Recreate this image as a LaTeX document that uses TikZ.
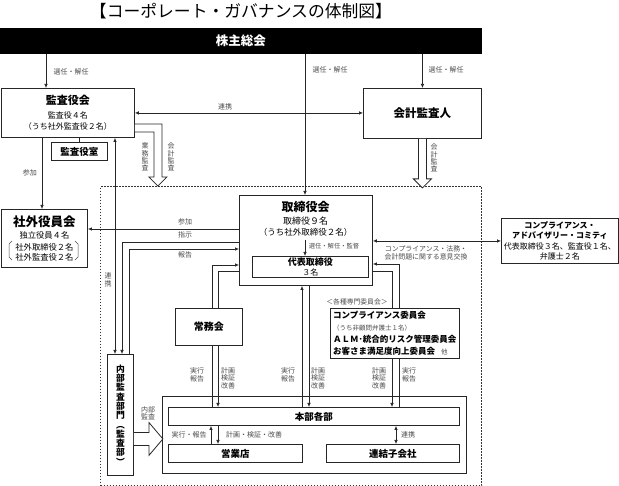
\documentclass[tikz,border=0pt]{standalone}
\usepackage{fontspec}
\setmainfont{Noto Sans CJK JP}
\usetikzlibrary{arrows.meta,calc}
\newcommand{\fsz}[2]{\fontsize{#1}{#2}\selectfont}
\setlength{\lineskiplimit}{-30pt}
\begin{document}
\begin{tikzpicture}[x=1pt,y=-1pt,
  >={Latex[length=4pt,width=3.6pt]},
  box/.style={draw=black!85, line width=0.9pt, fill=white, inner sep=0pt, anchor=north west, align=center},
  conn/.style={draw=black!85, line width=0.7pt},
  lbl/.style={text=black!70, inner sep=0pt, align=center, font={\fsz{7}{7.4}}},
  hollow/.style={draw=black!85, line width=0.8pt, fill=white},
  frame/.style={draw=black!80, line width=1.1pt, dash pattern=on 1.3pt off 1.7pt, inner sep=0pt, anchor=north west},
  brk/.style={draw=black!70, line width=0.5pt}]
\useasboundingbox (0,0) rectangle (619,486);

% helper coordinates for connector bends
\coordinate (xSelL) at (46,0);
\coordinate (xSelM) at (305,0);
\coordinate (xSanka) at (42,0);
\coordinate (xRenkei) at (115,0);
\coordinate (xShiji) at (122,0);
\coordinate (xHoukoku) at (129,0);
\coordinate (xJ1) at (212,0);
\coordinate (xJ2) at (218,0);
\coordinate (xT1) at (302,0);
\coordinate (xT2) at (309,0);
\coordinate (xR1) at (392,0);
\coordinate (xR2) at (399,0);
\coordinate (xE1) at (211,0);
\coordinate (xE2) at (218,0);
\coordinate (xRk) at (396,0);
\coordinate (ySanka) at (0,229);
\coordinate (yShiji) at (0,242);
\coordinate (yHoukoku) at (0,249);
\coordinate (yJ1) at (0,265);
\coordinate (yJ2) at (0,271);
\coordinate (yR2) at (0,264);
\coordinate (yR1) at (0,271);
\coordinate (kantokuTop) at (305,240);

% title
\node[inner sep=0pt, font={\fsz{16.8}{18}}] (title) at (241,11) {【コーポレート・ガバナンスの体制図】};

% dotted frame
\node[frame, minimum width=381pt, minimum height=299pt] (frm) at (100,186) {};

% nodes
\node[box, minimum width=481pt, minimum height=25pt, fill=black, draw=black, text=white, font={\fsz{12.5}{14}\bfseries}] (kabu) at (0,28) {株主総会};
\node[box, minimum width=133pt, minimum height=49pt, font={\fsz{8}{10}}] (kansa) at (1,88) {{\fsz{11}{13}\bfseries 監査役会}\\[4pt]監査役４名\\[1pt]（うち社外監査役２名）};
\node[box, minimum width=118pt, minimum height=50pt, font={\fsz{11.5}{13}\bfseries}] (kaikei) at (363,88) {会計監査人};
\node[box, minimum width=56pt, minimum height=18pt, font={\fsz{9.5}{11}\bfseries}] (shitsu) at (51,142) {監査役室};
\node[box, minimum width=86pt, minimum height=58pt, font={\fsz{8.3}{10}}] (shagai) at (1,209) {{\fsz{12.5}{14}\bfseries 社外役員会}\\[2.5pt]独立役員４名\\[2pt]社外取締役２名\\社外監査役２名};
\node[box, minimum width=133pt, minimum height=90pt] (tori) at (239,195) {};
\node[inner sep=0pt, anchor=north, align=center, font={\fsz{8.5}{11.5}}] (toritxt) at (305.5,201.5) {{\fsz{12}{14}\bfseries 取締役会}\\[1pt]{\fsz{9}{11}取締役９名}\\（うち社外取締役２名）};
\node[box, minimum width=116pt, minimum height=21pt, font={\fsz{8}{9.5}}] (daihyo) at (252,256) {{\fsz{9}{10}\bfseries 代表取締役}\\３名};
\node[box, minimum width=67pt, minimum height=37pt, font={\fsz{10}{12}\bfseries}] (joumu) at (175,308) {常務会};
\node[box, minimum width=117pt, minimum height=45pt, font={\fsz{8}{10.3}}] (cac) at (501,218) {{\bfseries コンプライアンス・}\\{\bfseries アドバイザリー・コミティ}\\代表取締役３名、監査役１名、\\弁護士２名};
\node[box, minimum width=26pt, minimum height=121pt, font={\fsz{8.8}{9.3}\bfseries}] (naibu) at (107,354) {内\\部\\監\\査\\部\\門\\︵\\監\\査\\部\\︶};
\node[box, minimum width=304pt, minimum height=77pt] (group) at (162,396) {};
\node[box, minimum width=291pt, minimum height=18pt, font={\fsz{9.5}{11}\bfseries}] (honbu) at (168,407) {本部各部};
\node[box, minimum width=134pt, minimum height=18pt, font={\fsz{9.5}{11}\bfseries}] (eigyo) at (168,444) {営業店};
\node[box, minimum width=133pt, minimum height=18pt, font={\fsz{9.5}{11}\bfseries}] (renketsu) at (326,444) {連結子会社};

% brackets in 社外役員会
\draw[brk] (12,241) -- (9,244) -- (9,257) -- (12,260);
\draw[brk] (75,241) -- (78,244) -- (78,257) -- (75,260);

% connectors from 株主総会
\draw[conn,->] (kabu.south -| xSelL) -- (kansa.north -| xSelL);
\draw[conn,->] (kabu.south -| xSelM) -- (tori.north -| xSelM);
\draw[conn,->] (kabu.south -| kaikei.north) -- (kaikei.north);
\node[lbl] at (71,72) {選任・解任};
\node[lbl] at (330,70) {選任・解任};
\node[lbl] at (446,70) {選任・解任};

% 連携 監査役会 - 会計監査人
\draw[conn,<->] (kansa.east) -- (kaikei.west |- kansa.east);
\node[lbl] at (225,107) {連携};

% 監査役室
\draw[conn] (kansa.south -| shitsu.north) -- (shitsu.north);

% 参加 監査役会 -> 社外役員会
\draw[conn,->] (kansa.south -| xSanka) -- (shagai.north -| xSanka);
\node[lbl] at (30,173) {参加};

% hollow arrows
\draw[hollow] (kansa.north east) ++(0,36) -- ++(27,0) -- ++(0,53) -- ++(5,0) -- ++(-9,9) -- ++(-9,-9) -- ++(5,0) -- ++(0,-45) -- ++(-19,0);
\node[lbl] at (145,157) {業\\務\\監\\査};
\node[lbl] at (171,157) {会\\計\\監\\査};
\draw[hollow] (kaikei.south) ++(-4,0) -- ++(0,40) -- ++(-5,0) -- ++(9,9) -- ++(9,-9) -- ++(-5,0) -- ++(0,-40);
\node[lbl] at (434,158) {会\\計\\監\\査};
\draw[hollow] (naibu.east) ++(0,17.5) -- ++(15,0) -- ++(0,-10) -- ++(14,16.5) -- ++(-14,16.5) -- ++(0,-10) -- ++(-15,0);
\node[lbl] at (148,413) {内部\\監査};

% 連携 監査役会 - 内部監査部門
\draw[conn,<->] (kansa.south -| xRenkei) -- (naibu.north -| xRenkei);
\node[lbl] at (108,280) {連\\携};

% 取締役会 left side
\draw[conn,->] (tori.west |- ySanka) -- (shagai.east |- ySanka);
\node[lbl] at (185,222) {参加};
\draw[conn,->] (tori.west |- yShiji) -- (xShiji |- yShiji) -- (naibu.north -| xShiji);
\node[lbl] at (185,235) {指示};
\draw[conn,->] (naibu.north -| xHoukoku) -- (xHoukoku |- yHoukoku) -- (tori.west |- yHoukoku);
\node[lbl] at (185,255) {報告};

% 常務会
\draw[conn,->] (joumu.north -| xJ1) -- (xJ1 |- yJ1) -- (tori.west |- yJ1);
\draw[conn] (joumu.north -| xJ2) -- (xJ2 |- yJ2) -- (tori.west |- yJ2);
\draw[conn] (joumu.south -| xJ1) -- (honbu.north -| xJ1);
\draw[conn,->] (joumu.south -| xJ2) -- (honbu.north -| xJ2);
\node[lbl] at (197,375) {実行\\報告};
\node[lbl] at (228,378) {計画\\検証\\改善};

% 取締役会 - 本部各部
\draw[conn,->] (honbu.north -| xT1) -- (tori.south -| xT1);
\draw[conn,->] (tori.south -| xT2) -- (honbu.north -| xT2);
\node[lbl] at (288,375) {実行\\報告};
\node[lbl] at (318,378) {計画\\検証\\改善};

% 選任・解任・監督
\draw[conn,->] (kantokuTop) -- (daihyo.north -| kantokuTop);
\node[lbl, font={\fsz{6.3}{7}}] at (334,246) {選任・解任・監督};

% right side loop
\draw[conn,->] (honbu.north -| xR2) -- (xR2 |- yR2) -- (tori.east |- yR2);
\draw[conn,->] (tori.east |- yR1) -- (xR1 |- yR1) -- (honbu.north -| xR1);
\node[lbl] at (379,378) {計画\\検証\\改善};
\node[lbl] at (409,375) {実行\\報告};

% 意見交換
\draw[conn,<->] (tori.east |- cac.west) -- (cac.west);
\node[lbl, font={\fsz{6.9}{8.6}}] at (426,253) {コンプライアンス・法務・\\会計問題に関する意見交換};

% committees box (covers lines)
\node[lbl, font={\fsz{6.8}{8}}] at (357,302) {＜各種専門委員会＞};
\node[box, minimum width=129pt, minimum height=50pt] (iinkai) at (330,308) {};
\node[inner sep=0pt, anchor=west, align=left, font={\fsz{8.5}{12}\bfseries}] (iintxt) at (333,333.5) {コンプライアンス委員会\\{\fsz{6.5}{8}\mdseries\color{black!70}（うち非顧問弁護士１名）}\\ＡＬＭ･統合的リスク管理委員会\\お客さま満足度向上委員会\hspace{6pt}{\fsz{6.5}{8}\mdseries\color{black!70}他}};

% 本部各部 - 営業店 / 連結子会社
\draw[conn,->] (eigyo.north -| xE1) -- (honbu.south -| xE1);
\draw[conn,->] (honbu.south -| xE2) -- (eigyo.north -| xE2);
\node[lbl] at (189,435) {実行・報告};
\node[lbl] at (254,435) {計画・検証・改善};
\draw[conn,<->] (honbu.south -| xRk) -- (renketsu.north -| xRk);
\node[lbl] at (408,435) {連携};
\end{tikzpicture}
\end{document}
